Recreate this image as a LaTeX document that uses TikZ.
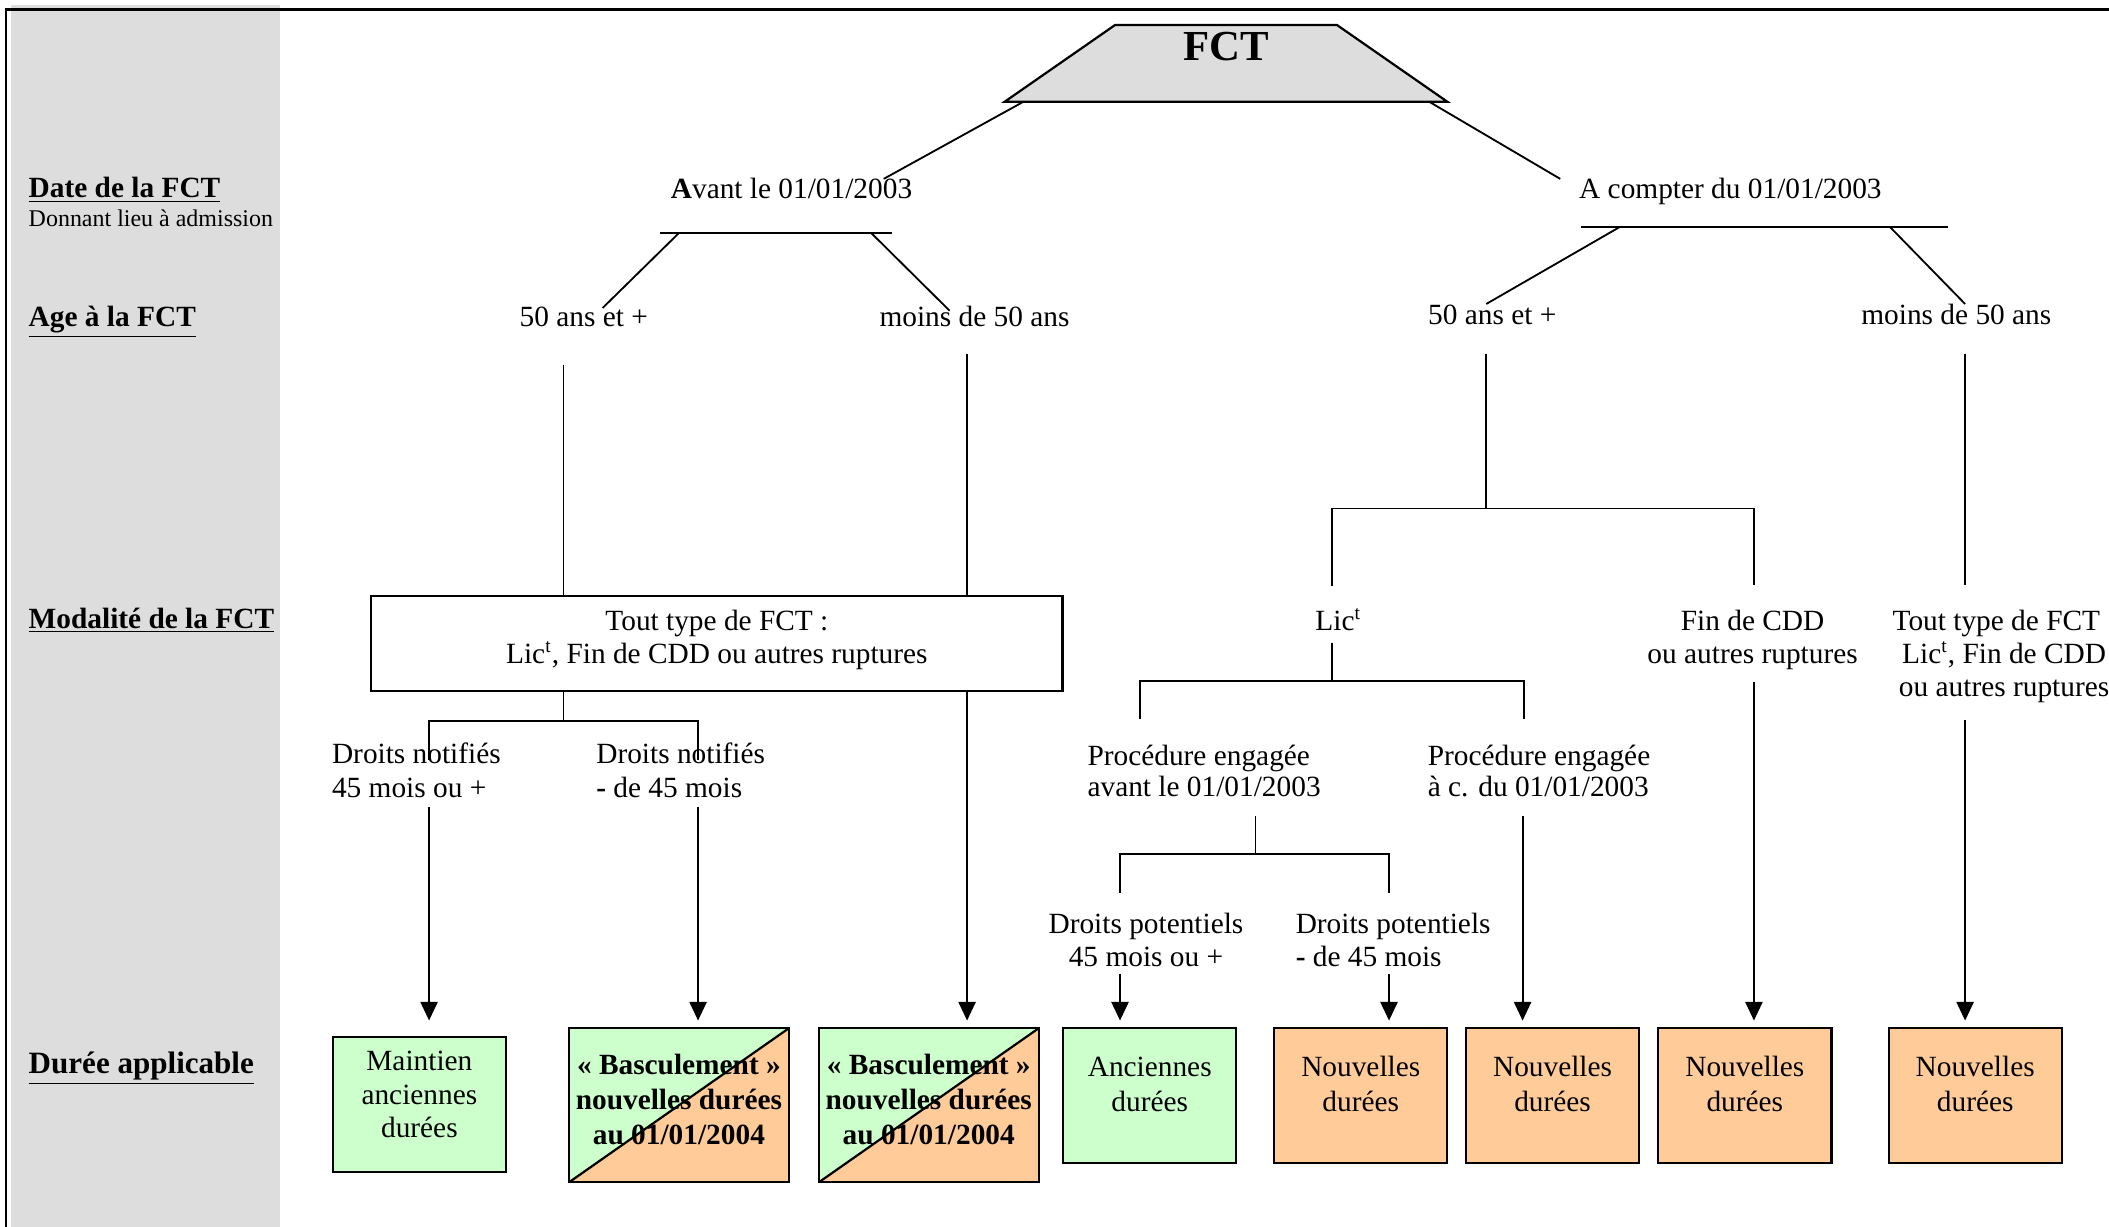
\documentclass[tikz,border=0pt]{standalone}
\usepackage{fontspec}
\setmainfont{Liberation Serif}
\usetikzlibrary{arrows.meta}
\definecolor{bandgray}{HTML}{DDDDDD}
\definecolor{okgreen}{HTML}{CCFFCC}
\definecolor{peach}{HTML}{FFCC99}
\begin{document}
\begin{tikzpicture}[x=0.55pt,y=-0.55pt,
  txt/.style={inner sep=0pt, anchor=base, font=\fontsize{12}{14}\selectfont},
  txtw/.style={inner sep=0pt, anchor=base west, font=\fontsize{12}{14}\selectfont},
  btxt/.style={inner sep=0pt, anchor=base, font=\fontsize{12}{14}\selectfont\bfseries},
  rowlab/.style={inner sep=0pt, anchor=base west, font=\fontsize{12}{14}\selectfont\bfseries},
  ln/.style={line width=0.75pt},
  arr/.style={line width=0.75pt, -{Triangle[length=7.6pt,width=7pt]}},
  durbox/.style={draw, line width=0.9pt, inner sep=0pt},
  smallbox/.style={durbox, minimum width=70.8pt, minimum height=55pt},
  bascule/.style={durbox, minimum width=89.9pt, minimum height=63pt,
    path picture={
      \fill[okgreen] (path picture bounding box.south west) -- (path picture bounding box.north west) -- (path picture bounding box.north east) -- cycle;
      \fill[peach] (path picture bounding box.south west) -- (path picture bounding box.south east) -- (path picture bounding box.north east) -- cycle;
      \draw[line width=0.9pt] (path picture bounding box.south west) -- (path picture bounding box.north east);}}
]
\useasboundingbox (0,0) rectangle (1568,911.6);
\clip (0,0) rectangle (1568,911.6);

% left band and frame
\fill[bandgray] (8,3.7) rectangle (208,912);
\draw[line width=0.9pt] (4.5,912) -- (4.5,7) -- (1568,7);

% row labels
\node[rowlab] (rdate) at (21,147) {\underline{Date de la FCT}};
\node[inner sep=0pt, anchor=base west, font=\fontsize{9.8}{11}\selectfont] (rdon) at (21,168.5) {Donnant lieu à admission};
\node[rowlab] (rage) at (21,243) {\underline{Age à la FCT}};
\node[rowlab] (rmod) at (21,467) {\underline{Modalité de la FCT}};
\node[inner sep=0pt, anchor=base west, font=\fontsize{12.7}{14}\selectfont\bfseries] (rdur) at (21,798) {\underline{Durée applicable}};

% top trapezoid
\filldraw[fill=bandgray, line width=0.9pt] (747,75.6) -- (829,18.6) -- (994,18.6) -- (1076,75.6) -- cycle;
\node[inner sep=0pt, anchor=base, font=\fontsize{17.5}{20}\selectfont\bfseries] (fct) at (911.5,45) {FCT};
\coordinate (fctL) at (761,75.6);
\coordinate (fctR) at (1062.5,75.6);

% date level
\node[txt] (avant) at (588.5,147.3) {\textbf{A}vant le 01/01/2003};
\node[txt] (compter) at (1286.5,147.3) {A compter du 01/01/2003};
\coordinate (avantT) at (657,133);
\coordinate (compterT) at (1160,133);
\draw[ln] (fctL) -- (avantT);
\draw[ln] (fctR) -- (compterT);
\coordinate (avL) at (491,173.5); \coordinate (avR) at (663,173.5);
\coordinate (coL) at (1175.5,168.6); \coordinate (coR) at (1448,168.6);
\draw[ln] (avL) -- (avR);
\draw[ln] (coL) -- (coR);

% age level
\node[txt] (age1) at (434,242.5) {50 ans et +};
\node[txt] (age2) at (724.5,242.5) {moins de 50 ans};
\node[txt] (age3) at (1109.5,241.6) {50 ans et +};
\node[txt] (age4) at (1454.5,241.6) {moins de 50 ans};
\draw[ln] (504.5,173.5) -- (448,229);
\draw[ln] (648,173.5) -- (706,231);
\draw[ln] (1204.5,168.6) -- (1105,226);
\draw[ln] (1405,168.6) -- (1461,226);

% left modality box
\node[durbox, minimum width=282.7pt, minimum height=39.05pt] (tt) at (533,478.5) {};
\node[txt] (tt1) at (533,468.4) {Tout type de FCT :};
\node[txt] (tt2) at (533,493) {Lic\textsuperscript{t}, Fin de CDD ou autres ruptures};
\draw[ln] (419,271) -- (419,0 |- tt.north);
\draw[ln] (719,263) -- (719,0 |- tt.north);

% Droits notifies
\node[txtw] (dn1a) at (246.5,568) {Droits notifiés};
\node[txtw] (dn1b) at (246.5,592.8) {45 mois ou +};
\node[txtw] (dn2a) at (443,568) {Droits notifiés};
\node[txtw] (dn2b) at (443,592.8) {\textbf{-} de 45 mois};
\coordinate (ttJ) at (419,536);
\draw[ln] (419,0 |- tt.south) -- (ttJ);
\draw[ln] (319,565) -- (319,536) -- (519,536) -- (519,565);

% right branch: 50 ans et +
\coordinate (a3J) at (1105,378);
\draw[ln] (1105,263) -- (a3J);
\draw[ln] (990,435.7) -- (990,378) -- (1304,378) -- (1304,435);
\node[txt] (lic) at (995,468.4) {Lic\textsuperscript{t}};
\node[txt] (fin1) at (1303,468.4) {Fin de CDD};
\node[txt] (fin2) at (1303,493) {ou autres ruptures};

% Lic -> procedures
\draw[ln] (990,477.8) -- (990,506.3);
\draw[ln] (847.5,534.8) -- (847.5,506.3) -- (1133.2,506.3) -- (1133.2,534.8);
\node[txtw] (pe1a) at (808.2,568.8) {Procédure engagée};
\node[txtw] (pe1b) at (808.2,592.3) {avant le 01/01/2003};
\node[txtw] (pe2a) at (1061.2,568.8) {Procédure engagée};
\node[txtw] (pe2b) at (1061.2,592.3) {à c. du 01/01/2003};

% procedure avant -> droits potentiels
\draw[ln] (933.4,607) -- (933.4,635);
\draw[ln] (832.7,663.7) -- (832.7,635) -- (1032.7,635) -- (1032.7,663.7);
\node[txt] (dp1a) at (852,694) {Droits potentiels};
\node[txt] (dp1b) at (852,718.7) {45 mois ou +};
\node[txtw] (dp2a) at (963,694) {Droits potentiels};
\node[txtw] (dp2b) at (963,718.7) {\textbf{-} de 45 mois};

% right branch: moins de 50 ans
\draw[ln] (1461,263) -- (1461,435);
\node[txt] (rt1) at (1490,468.4) {Tout type de FCT :};
\node[txt] (rt2) at (1490,493) {Lic\textsuperscript{t}, Fin de CDD};
\node[txt] (rt3) at (1490,518) {ou autres ruptures};

% result boxes
\node[smallbox, fill=okgreen, minimum width=70.6pt, minimum height=55.3pt] (mb) at (311.8,821.25) {};
\node[bascule] (b1) at (504.75,821.75) {};
\node[bascule] (b2) at (690.5,821.75) {};
\node[smallbox, fill=okgreen] (an) at (854.8,814.5) {};
\node[smallbox, fill=peach] (n1) at (1011.7,814.5) {};
\node[smallbox, fill=peach] (n2) at (1154.3,814.5) {};
\node[smallbox, fill=peach] (n3) at (1297.25,814.5) {};
\node[smallbox, fill=peach] (n4) at (1468.5,814.5) {};

\node[txt] (mbt1) at (311.8,796) {Maintien};
\node[txt] (mbt2) at (311.8,821) {anciennes};
\node[txt] (mbt3) at (311.8,846) {durées};
\foreach \bx/\nm in {504.75/b1, 690.5/b2} {
  \node[btxt] (\nm t1) at (\bx,799) {«~Basculement~»};
  \node[btxt] (\nm t2) at (\bx,825) {nouvelles durées};
  \node[btxt] (\nm t3) at (\bx,851) {au 01/01/2004};
}
\node[txt] (ant1) at (854.8,800.5) {Anciennes};
\node[txt] (ant2) at (854.8,826.5) {durées};
\foreach \bx/\nm in {1011.7/n1, 1154.3/n2, 1297.25/n3, 1468.5/n4} {
  \node[txt] (\nm t1) at (\bx,800.5) {Nouvelles};
  \node[txt] (\nm t2) at (\bx,826.5) {durées};
}

% arrows to result boxes
\draw[arr, shorten >=6.3pt] (319,600) -- (319,0 |- mb.north);
\draw[arr, shorten >=2.7pt] (519,600) -- (519,0 |- b1.north);
\draw[arr, shorten >=2.7pt] (719,0 |- tt.south) -- (719,0 |- b2.north);
\draw[arr, shorten >=2.7pt] (832.7,724) -- (832.7,0 |- an.north);
\draw[arr, shorten >=2.7pt] (1032.7,724) -- (1032.7,0 |- n1.north);
\draw[arr, shorten >=2.7pt] (1132,607) -- (1132,0 |- n2.north);
\draw[arr, shorten >=2.7pt] (1304,507) -- (1304,0 |- n3.north);
\draw[arr, shorten >=2.7pt] (1461,535) -- (1461,0 |- n4.north);
\end{tikzpicture}
\end{document}
